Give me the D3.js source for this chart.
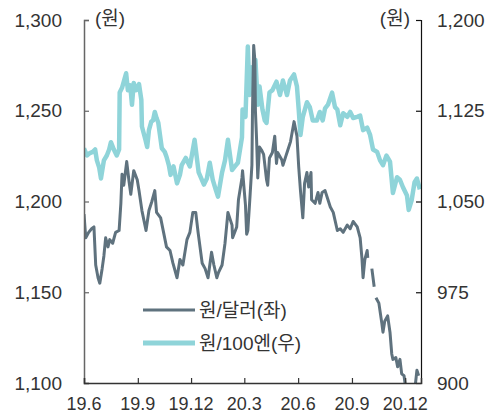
<!DOCTYPE html>
<html>
<head>
<meta charset="utf-8">
<script src="https://cdn.jsdelivr.net/npm/d3@7"></script>
<style>
  html, body { margin: 0; padding: 0; background: #fff; }
  svg { display: block; }
  text { font-family: "Liberation Sans", "Noto Sans CJK KR", sans-serif; fill: #333; }
</style>
</head>
<body>
<svg id="chart" width="496" height="414"></svg>
<script>
// 원/달러 환율 (좌축), null = 결측 구간
const usdDates = [
  "2019-06-01","2019-06-04","2019-06-09","2019-06-14","2019-06-18","2019-06-21","2019-06-25","2019-06-28",
  "2019-07-02","2019-07-05","2019-07-08","2019-07-12","2019-07-15","2019-07-20","2019-07-25","2019-07-31",
  "2019-08-03","2019-08-05","2019-08-08","2019-08-13","2019-08-17","2019-08-20","2019-08-25","2019-08-31",
  "2019-09-03","2019-09-08","2019-09-15","2019-09-20","2019-09-25","2019-09-30","2019-10-03","2019-10-10",
  "2019-10-15","2019-10-20","2019-10-26","2019-10-31","2019-11-07","2019-11-12","2019-11-17","2019-11-24",
  "2019-11-29","2019-12-04","2019-12-09","2019-12-13","2019-12-20","2019-12-25","2019-12-30","2020-01-05",
  "2020-01-09","2020-01-14","2020-01-17","2020-01-23","2020-01-28","2020-02-02","2020-02-09","2020-02-10",
  "2020-02-17","2020-02-20","2020-02-26","2020-02-27","2020-03-03","2020-03-05","2020-03-07","2020-03-10",
  "2020-03-14","2020-03-15","2020-03-17","2020-03-19","2020-03-20","2020-03-22","2020-03-24","2020-03-27",
  "2020-03-31","2020-04-03","2020-04-08","2020-04-10","2020-04-13","2020-04-18","2020-04-22","2020-04-25",
  "2020-04-27","2020-05-04","2020-05-06","2020-05-11","2020-05-14","2020-05-19","2020-05-25","2020-05-30",
  "2020-06-02","2020-06-05","2020-06-09","2020-06-12","2020-06-16","2020-06-19","2020-06-23","2020-06-24",
  "2020-06-30","2020-07-05","2020-07-08","2020-07-12","2020-07-17","2020-07-22","2020-07-26","2020-07-31",
  "2020-08-07","2020-08-12","2020-08-17","2020-08-24","2020-08-29","2020-09-03","2020-09-10","2020-09-15",
  "2020-09-18","2020-09-20","2020-09-23","2020-09-27","2020-09-28","2020-10-02","2020-10-05","2020-10-09",
  "2020-10-10","2020-10-12","2020-10-17","2020-10-22","2020-10-24","2020-10-27","2020-11-01","2020-11-05",
  "2020-11-08","2020-11-10","2020-11-15","2020-11-18","2020-11-22","2020-11-25","2020-11-29","2020-12-02",
  "2020-12-04","2020-12-07","2020-12-12","2020-12-17","2020-12-21","2020-12-24"
];
const usdValues = [
  1193,1180,1183,1185,1186,1165,1158,1155,
  1163,1170,1180,1175,1179,1177,1183,1184,
  1199,1215,1209,1222,1211,1204,1217,1212,
  1206,1195,1184,1195,1200,1206,1194,1191,
  1183,1175,1173,1166,1158,1168,1165,1179,
  1183,1194,1194,1183,1166,1163,1158,1172,
  1165,1158,1161,1165,1177,1194,1187,1180,
  1186,1201,1213,1217,1198,1182,1184,1199,
  1220,1250,1286,1278,1250,1234,1213,1230,
  1228,1226,1212,1209,1224,1227,1236,1221,
  1227,1223,1220,1225,1228,1233,1244,1236,
  1219,1206,1191,1210,1216,1208,1216,1201,
  1199,1205,1199,1205,1206,1201,1197,1194,
  1184,1185,1183,1187,1185,1189,1186,1180,
  1169,1158,1168,1173,1169,null,1163,1153,
  null,1147,1144,1133,1128,1134,1137,1128,
  1116,1113,1114,1109,1113,1105,1104,1097,
  1085,1087,1086,1095,1107,1104
];

// 원/100엔 환율 (우축)
const jpyDates = [
  "2019-06-01","2019-06-06","2019-06-11","2019-06-16","2019-06-20","2019-06-23","2019-06-27","2019-06-30",
  "2019-07-05","2019-07-10","2019-07-14","2019-07-17","2019-07-22","2019-07-27","2019-07-31","2019-08-01",
  "2019-08-05","2019-08-08","2019-08-12","2019-08-15","2019-08-19","2019-08-22","2019-08-25","2019-08-29",
  "2019-09-03","2019-09-07","2019-09-08","2019-09-14","2019-09-17","2019-09-20","2019-09-24","2019-09-27",
  "2019-09-30","2019-10-03","2019-10-06","2019-10-12","2019-10-17","2019-10-20","2019-10-24","2019-10-27",
  "2019-11-01","2019-11-07","2019-11-12","2019-11-15","2019-11-22","2019-11-29","2019-12-07","2019-12-14",
  "2019-12-23","2019-12-28","2020-01-02","2020-01-07","2020-01-12","2020-01-16","2020-01-23","2020-01-28",
  "2020-02-02","2020-02-09","2020-02-14","2020-02-19","2020-02-26","2020-02-27","2020-03-03","2020-03-07",
  "2020-03-10","2020-03-14","2020-03-17","2020-03-20","2020-03-24","2020-03-27","2020-04-01","2020-04-05",
  "2020-04-08","2020-04-13","2020-04-18","2020-04-25","2020-05-01","2020-05-06","2020-05-13","2020-05-18",
  "2020-05-25","2020-05-30","2020-06-02","2020-06-05","2020-06-09","2020-06-16","2020-06-21","2020-06-26",
  "2020-07-03","2020-07-08","2020-07-13","2020-07-17","2020-07-22","2020-07-29","2020-08-03","2020-08-07",
  "2020-08-12","2020-08-17","2020-08-24","2020-08-29","2020-09-03","2020-09-10","2020-09-15","2020-09-20",
  "2020-09-27","2020-10-02","2020-10-07","2020-10-14","2020-10-19","2020-10-24","2020-10-30","2020-11-05",
  "2020-11-10","2020-11-17","2020-11-22","2020-11-27","2020-12-04","2020-12-07","2020-12-12","2020-12-17",
  "2020-12-21","2020-12-26"
];
const jpyValues = [
  1094,1088,1090,1091,1093,1084,1078,1069,
  1084,1088,1093,1099,1093,1088,1093,1140,
  1144,1149,1156,1142,1146,1130,1148,1142,
  1147,1134,1112,1101,1095,1109,1116,1117,
  1124,1119,1115,1094,1091,1087,1080,1072,
  1079,1065,1072,1080,1086,1079,1101,1074,
  1064,1069,1082,1068,1060,1054,1074,1084,
  1101,1076,1079,1082,1103,1126,1120,1178,
  1138,1161,1150,1167,1130,1145,1126,1117,
  1115,1140,1142,1149,1138,1150,1138,1150,
  1155,1145,1126,1105,1120,1132,1128,1117,
  1117,1124,1117,1127,1130,1140,1128,1126,
  1113,1123,1120,1124,1119,1120,1121,1109,
  1111,1105,1093,1091,1084,1080,1088,1083,
  1057,1070,1068,1062,1055,1043,1051,1066,
  1069,1060
];

const leftTicks = [1100, 1150, 1200, 1250, 1300];
const rightTicks = [900, 975, 1050, 1125, 1200];
const monthTicks = ["2019-06-01","2019-09-01","2019-12-01","2020-03-01","2020-06-01","2020-09-01","2020-12-01"];
const monthLabels = ["19.6","19.9","19.12","20.3","20.6","20.9","20.12"];
const seriesNames = ["원/달러(좌)", "원/100엔(우)"];
const unitLabel = "(원)";

const parse = d3.timeParse("%Y-%m-%d");
const colors = { usd: "#5f727e", jpy: "#8fd4d9" };

const svg = d3.select("#chart");
const plot = { left: 84, right: 421, top: 20, bottom: 383 };

const x = d3.scaleTime()
  .domain([parse("2019-06-01"), parse("2020-12-28")])
  .range([plot.left, plot.right]);
const yL = d3.scaleLinear().domain([1100, 1300]).range([plot.bottom, plot.top]);
const yR = d3.scaleLinear().domain([900, 1200]).range([plot.bottom, plot.top]);

svg.append("clipPath").attr("id", "plotClip")
  .append("rect")
  .attr("x", plot.left).attr("y", plot.top)
  .attr("width", plot.right - plot.left).attr("height", plot.bottom - plot.top);

const usd = usdDates.map((d, i) => ({ date: parse(d), value: usdValues[i] }));
const jpy = jpyDates.map((d, i) => ({ date: parse(d), value: jpyValues[i] }));

const lines = svg.append("g").attr("clip-path", "url(#plotClip)");

lines.append("path")
  .datum(jpy)
  .attr("fill", "none")
  .attr("stroke", colors.jpy)
  .attr("stroke-width", 4.5)
  .attr("stroke-linejoin", "round")
  .attr("d", d3.line().x(d => x(d.date)).y(d => yR(d.value)));

lines.append("path")
  .datum(usd)
  .attr("fill", "none")
  .attr("stroke", colors.usd)
  .attr("stroke-width", 3)
  .attr("stroke-linejoin", "round")
  .attr("d", d3.line().defined(d => d.value !== null).x(d => x(d.date)).y(d => yL(d.value)));

// 좌축
const leftAxis = svg.append("g")
  .attr("transform", `translate(${plot.left},0)`)
  .call(d3.axisRight(yL).tickValues(leftTicks).tickSize(5).tickFormat(() => ""));
leftAxis.select(".domain").attr("stroke", "#666").attr("stroke-width", 1.5);
leftAxis.selectAll(".tick line").attr("stroke", "#666").attr("stroke-width", 1.2);
svg.append("g").selectAll("text").data(leftTicks).join("text")
  .attr("x", 62).attr("y", d => yL(d)).attr("dy", "0.35em")
  .attr("text-anchor", "end").attr("font-size", 19)
  .text(d => d3.format(",")(d));

// 우축
const rightAxis = svg.append("g")
  .attr("transform", `translate(${plot.right},0)`)
  .call(d3.axisLeft(yR).tickValues(rightTicks).tickSize(5).tickFormat(() => ""));
rightAxis.select(".domain").attr("stroke", "#111").attr("stroke-width", 1.2);
rightAxis.selectAll(".tick line").attr("stroke", "#111").attr("stroke-width", 1.2);
svg.append("g").selectAll("text").data(rightTicks).join("text")
  .attr("x", 437).attr("y", d => yR(d)).attr("dy", "0.35em")
  .attr("text-anchor", "start").attr("font-size", 19)
  .text(d => d3.format(",")(d));

// 하단축
const bottomAxis = svg.append("g")
  .attr("transform", `translate(0,${plot.bottom})`)
  .call(d3.axisTop(x).tickValues(monthTicks.map(parse)).tickSize(5).tickFormat(() => ""));
bottomAxis.select(".domain").attr("stroke", "#333").attr("stroke-width", 1.5);
bottomAxis.selectAll(".tick line").attr("stroke", "#333").attr("stroke-width", 1.2);
svg.append("g").selectAll("text").data(monthTicks).join("text")
  .attr("x", d => x(parse(d))).attr("y", 410)
  .attr("text-anchor", "middle").attr("font-size", 18)
  .text((d, i) => monthLabels[i]);

// 단위
svg.append("text").attr("x", 95).attr("y", 18).attr("dy", "0.35em")
  .attr("font-size", 19).text(unitLabel);
svg.append("text").attr("x", 410).attr("y", 18).attr("dy", "0.35em")
  .attr("text-anchor", "end").attr("font-size", 19).text(unitLabel);

// 범례
const legend = [
  { name: seriesNames[0], color: colors.usd, width: 3, y: 310 },
  { name: seriesNames[1], color: colors.jpy, width: 5, y: 343 }
];
const lg = svg.append("g");
lg.selectAll("line").data(legend).join("line")
  .attr("x1", 143).attr("x2", 195)
  .attr("y1", d => d.y).attr("y2", d => d.y)
  .attr("stroke", d => d.color).attr("stroke-width", d => d.width);
lg.selectAll("text").data(legend).join("text")
  .attr("x", 199).attr("y", d => d.y).attr("dy", "0.35em")
  .attr("font-size", 19).text(d => d.name);
</script>
</body>
</html>
